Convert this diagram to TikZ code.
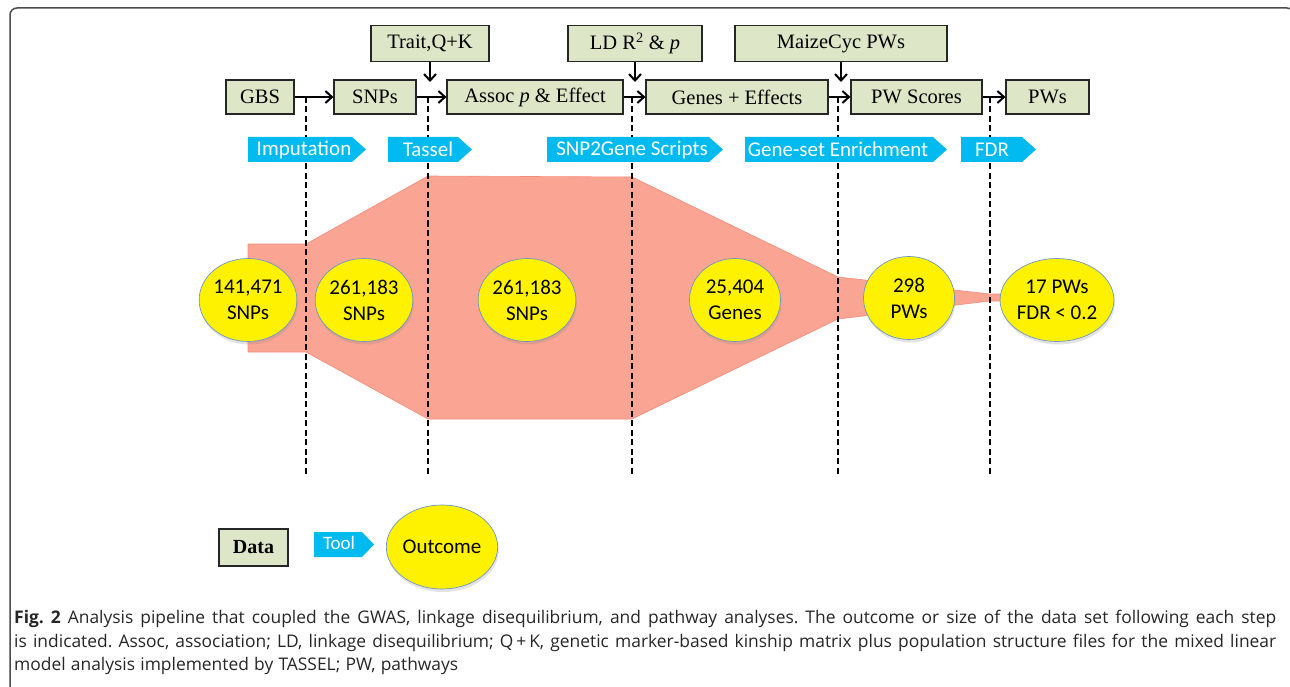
\documentclass[tikz,border=0pt]{standalone}
\usepackage{fontspec}
\setmainfont{Liberation Serif}
\newfontfamily\calfont{Carlito}
\newfontfamily\capfont{Open Sans}
\usetikzlibrary{arrows.meta,shapes.geometric,shadows}
\definecolor{boxc}{RGB}{221,231,200}
\definecolor{toolc}{RGB}{0,186,240}
\definecolor{salm}{RGB}{250,164,148}
\definecolor{salmedge}{RGB}{246,140,120}
\definecolor{circedge}{RGB}{110,150,200}
\tikzset{
  databox/.style={draw=black!85, line width=1.2pt, fill=boxc, minimum height=34pt, inner sep=0pt, font=\fontsize{20.5}{22}\selectfont},
  arr/.style={line width=2pt, -{Straight Barb[length=6.5pt,width=12pt]}},
  vline/.style={line width=2.2pt, dash pattern=on 6pt off 3.5pt},
  outc/.style={ellipse, fill=yellow, draw=circedge, line width=0.7pt, minimum width=91pt, minimum height=83pt, inner sep=0pt, align=center,
    font=\calfont\fontsize{21}{26}\selectfont, drop shadow={shadow xshift=1pt, shadow yshift=-3pt, opacity=0.22}},
  tooltext/.style={text=white, inner sep=0pt, font=\calfont\fontsize{21}{24}\selectfont},
  toolfill/.style={fill=toolc},
}
\begin{document}
\begin{tikzpicture}[x=1pt,y=-1pt]
\useasboundingbox (0,0) rectangle (1290,687);
% frame
\draw[line width=1.5pt, black!70, rounded corners=7pt] (10,8) rectangle (1294,693);

% funnel
\fill[salm, draw=salmedge, line width=0.6pt] (248,244) -- (306,244) -- (428,176) -- (632,177) -- (838,277) -- (990,294) -- (1015,294)
  -- (1015,301) -- (990,301) -- (838,319) -- (632,419) -- (428,419) -- (306,352) -- (248,352) -- cycle;

% data boxes
\node[databox, minimum width=68pt] (gbs) at (260,97) {GBS};
\node[databox, minimum width=82pt] (snps) at (375,97) {SNPs};
\node[databox, minimum width=176pt] (assoc) at (535,97) {Assoc \textit{p} \& Effect};
\node[databox, minimum width=182pt] (genes) at (737,97) {Genes + Effects};
\node[databox, minimum width=131pt] (pwsc) at (916.5,97) {PW Scores};
\node[databox, minimum width=83pt] (pws) at (1047.5,97) {PWs};
\node[databox, minimum width=118pt, minimum height=36pt] (trait) at (430,43.5) {Trait,Q+K};
\node[databox, minimum width=134pt, minimum height=36pt] (ld) at (635,43.5) {LD R\textsuperscript{2} \& \textit{p}};
\node[databox, minimum width=212pt, minimum height=36pt] (maize) at (841,43.5) {MaizeCyc PWs};

% coordinates
\coordinate (ta) at (430,82);
\coordinate (la) at (635,82);
\coordinate (ma) at (841,82);
\coordinate (d1t) at (306,97); \coordinate (d1b) at (306,476);
\coordinate (d2t) at (428,97); \coordinate (d2b) at (428,476);
\coordinate (d3t) at (632,97); \coordinate (d3b) at (632,476);
\coordinate (d4t) at (838,97); \coordinate (d4b) at (838,476);
\coordinate (d5t) at (990,97); \coordinate (d5b) at (990,476);

% dashed lines
\foreach \i in {1,...,5} { \draw[vline] (d\i t) -- (d\i b); }

% arrows
\draw[arr] (gbs.east) -- (snps.west);
\draw[arr] (snps.east) -- (assoc.west);
\draw[arr] (assoc.east) -- (genes.west);
\draw[arr] (genes.east) -- (pwsc.west);
\draw[arr] (pwsc.east) -- (pws.west);
\draw[arr] (trait.south) -- (ta);
\draw[arr] (ld.south) -- (la);
\draw[arr] (maize.south) -- (ma);

% tools
\fill[toolfill] (248,137) -- (352,137) -- (366,149.5) -- (352,162) -- (248,162) -- cycle;
\node[tooltext] (t1) at (304,149.5) {Imputation};
\fill[toolfill] (388,137) -- (458,137) -- (472,149.5) -- (458,162) -- (388,162) -- cycle;
\node[tooltext] (t2) at (428,149.5) {Tassel};
\fill[toolfill] (547,137) -- (709,137) -- (723,149.5) -- (709,162) -- (547,162) -- cycle;
\node[tooltext] (t3) at (632,149.5) {SNP2Gene Scripts};
\fill[toolfill] (745,137) -- (933,137) -- (947,149.5) -- (933,162) -- (745,162) -- cycle;
\node[tooltext] (t4) at (838,149.5) {Gene-set Enrichment};
\fill[toolfill] (961,137) -- (1022,137) -- (1036,149.5) -- (1022,162) -- (961,162) -- cycle;
\node[tooltext] (t5) at (992,149.5) {FDR};

% outcomes
\node[outc] (o1) at (248,300) {141,471\\SNPs};
\node[outc] (o2) at (364,300) {261,183\\SNPs};
\node[outc] (o3) at (527,300) {261,183\\SNPs};
\node[outc] (o4) at (735,300) {25,404\\Genes};
\node[outc] (o5) at (909,298) {298\\PWs};
\node[outc] (o6) at (1057,300) {17 PWs\\FDR < 0.2};

% legend
\node[databox, minimum width=69pt, minimum height=37pt, font=\bfseries\fontsize{20}{22}\selectfont] (ldata) at (253.5,547.5) {Data};
\fill[toolfill] (314,532) -- (362,532) -- (374,544.5) -- (362,557) -- (314,557) -- cycle;
\node[tooltext, font=\calfont\fontsize{19}{22}\selectfont] (ltool) at (339,543) {Tool};
\node[outc, minimum width=90pt, minimum height=84pt] (lout) at (442,547) {Outcome};

% caption
\node[anchor=north west, inner sep=0pt, text width=1262pt, align=justify, text=black!85,
  font={\capfont\fontsize{17.4}{23.5}\selectfont}] (cap) at (14,610)
  {\frenchspacing\tolerance=10000 \emergencystretch=20pt \spaceskip=0.3em plus 1em minus 0.02em
  \textbf{Fig.~2} Analysis pipeline that coupled the GWAS, linkage disequilibrium, and pathway analyses. The outcome or size of the data set following each step\linebreak
  is indicated. Assoc, association; LD, linkage disequilibrium; Q\,+\,K, genetic marker-based kinship matrix plus population structure files for the mixed linear\linebreak
  model analysis implemented by TASSEL; PW, pathways};
\end{tikzpicture}
\end{document}
